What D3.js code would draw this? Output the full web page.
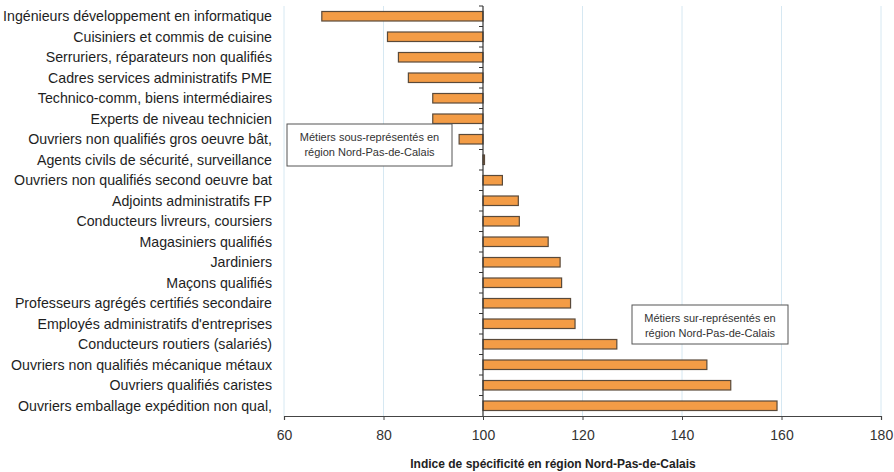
<!DOCTYPE html>
<html><head><meta charset="utf-8">
<script src="https://cdn.jsdelivr.net/npm/d3@7"></script>
<style>body{margin:0;background:#fff;} svg{display:block;font-family:"Liberation Sans",Arial,sans-serif;}</style>
</head><body>
<svg id="c" width="894" height="472"></svg>
<script>
const categories = [
  "Ingénieurs développement en informatique",
  "Cuisiniers et commis de cuisine",
  "Serruriers, réparateurs non qualifiés",
  "Cadres services administratifs PME",
  "Technico-comm, biens intermédiaires",
  "Experts de niveau technicien",
  "Ouvriers non qualifiés gros oeuvre bât,",
  "Agents civils de sécurité, surveillance",
  "Ouvriers non qualifiés second oeuvre bat",
  "Adjoints administratifs FP",
  "Conducteurs livreurs, coursiers",
  "Magasiniers qualifiés",
  "Jardiniers",
  "Maçons qualifiés",
  "Professeurs agrégés certifiés secondaire",
  "Employés administratifs d'entreprises",
  "Conducteurs routiers (salariés)",
  "Ouvriers non qualifiés mécanique métaux",
  "Ouvriers qualifiés caristes",
  "Ouvriers emballage expédition non qual,"
];
const values = [67.6, 80.8, 83.0, 85.0, 89.9, 89.9, 95.2, 100.3, 103.9, 107.1, 107.3, 113.1, 115.5, 115.8, 117.6, 118.5, 126.9, 145.0, 149.8, 159.1];
const xTicks = [60, 80, 100, 120, 140, 160, 180];
const baseline = 100;
const xTitle = "Indice de spécificité en région Nord-Pas-de-Calais";
const noteUnder = ["Métiers sous-représentés en", "région Nord-Pas-de-Calais"];
const noteOver = ["Métiers sur-représentés en", "région Nord-Pas-de-Calais"];

const svg = d3.select("#c");
const mLeft = 284, mRight = 881, mTop = 6, mBottom = 416;
const x = d3.scaleLinear().domain([60, 180]).range([mLeft, mRight]);
const y = d3.scaleBand().domain(categories).range([mTop, mBottom]);

// gridlines
svg.append("g").selectAll("line").data(xTicks.filter(t => t !== baseline)).join("line")
  .attr("x1", d => x(d)).attr("x2", d => x(d)).attr("y1", mTop).attr("y2", mBottom)
  .attr("stroke", "#d6e8f2").attr("stroke-width", 1);

// bars
const bh = 9.5;
svg.append("g").selectAll("rect").data(values).join("rect")
  .attr("x", d => x(Math.min(d, baseline)))
  .attr("width", d => Math.max(1, Math.abs(x(d) - x(baseline))))
  .attr("y", (d, i) => y(categories[i]) + y.bandwidth() / 2 - bh / 2)
  .attr("height", bh)
  .attr("fill", "#f39c46").attr("stroke", "#5a4a3a").attr("stroke-width", 1.2);

// vertical axis at 100 with category boundary ticks
const vg = svg.append("g");
vg.append("line").attr("x1", x(baseline)).attr("x2", x(baseline)).attr("y1", mTop).attr("y2", mBottom)
  .attr("stroke", "#333").attr("stroke-width", 1.2);
vg.selectAll("line.t").data(categories).join("line").attr("class", "t")
  .attr("x1", x(baseline) - 4).attr("x2", x(baseline))
  .attr("y1", d => y(d)).attr("y2", d => y(d))
  .attr("stroke", "#333").attr("stroke-width", 1);

// category labels
svg.append("g").selectAll("text").data(categories).join("text")
  .attr("x", 272).attr("y", d => y(d) + y.bandwidth() / 2).attr("dy", "0.35em")
  .attr("text-anchor", "end").attr("font-size", 14.2).attr("fill", "#1e1e1e").text(d => d);

// x axis
const xAxis = d3.axisBottom(x).tickValues(xTicks).tickSize(4).tickPadding(10).tickFormat(d3.format("d"));
const xg = svg.append("g").attr("transform", `translate(0,${mBottom})`).call(xAxis);
xg.select(".domain").attr("stroke", "#444").attr("stroke-width", 1.2);
xg.selectAll(".tick line").attr("stroke", "#444");
xg.selectAll(".tick text").attr("font-size", 14).attr("fill", "#333").attr("font-family", "Liberation Sans, Arial, sans-serif");

svg.append("text").attr("x", 553).attr("y", 468).attr("text-anchor", "middle")
  .attr("font-size", 12).attr("font-weight", "bold").attr("fill", "#222").text(xTitle);

// annotation boxes
function note(lines, x0, y0, w, h) {
  const g = svg.append("g");
  g.append("rect").attr("x", x0).attr("y", y0).attr("width", w).attr("height", h)
    .attr("fill", "#fff").attr("stroke", "#555").attr("stroke-width", 1);
  g.selectAll("text").data(lines).join("text")
    .attr("x", x0 + w / 2).attr("y", (d, i) => y0 + 17 + i * 15)
    .attr("text-anchor", "middle").attr("font-size", 11).attr("fill", "#333").text(d => d);
}
note(noteUnder, 287, 124, 165, 42);
note(noteOver, 632, 305, 156, 39);
</script>
</body></html>
